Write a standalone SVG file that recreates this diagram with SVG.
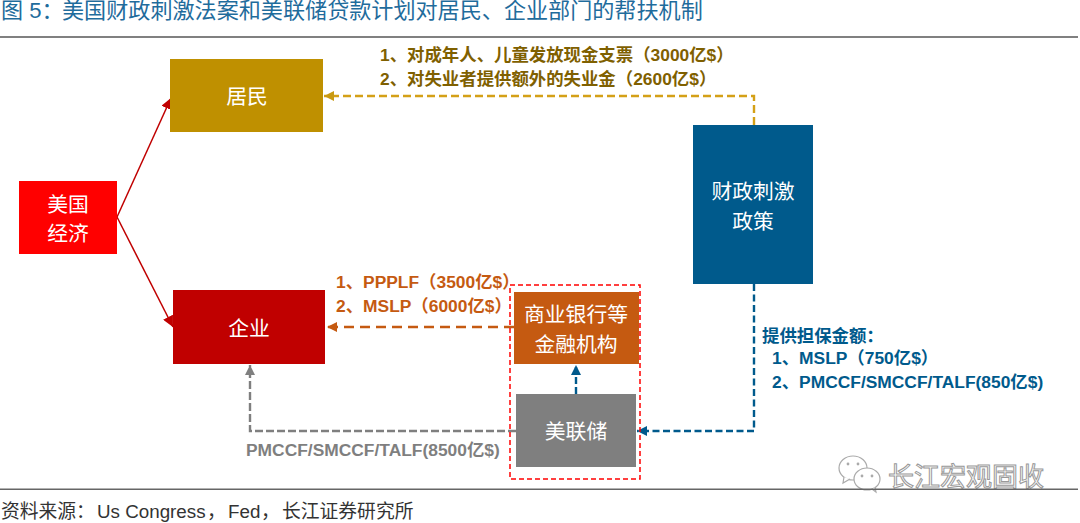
<svg xmlns="http://www.w3.org/2000/svg" width="1080" height="523" viewBox="0 0 1080 523">
<style>
text{font-family:"Liberation Sans","Noto Sans CJK SC",sans-serif}
.n{fill:#fff;font-size:20.800px;text-anchor:middle}
.l{font-size:17.400px;font-weight:bold}
.c{fill:none;stroke-width:2.400}
</style>
<defs>
<marker id="ay" markerUnits="userSpaceOnUse" markerWidth="10" markerHeight="10" refX="8" refY="4" orient="auto" viewBox="0 0 8 8"><path d="M0 0L8 4L0 8Z" fill="#c99a12"/></marker>
<marker id="ao" markerUnits="userSpaceOnUse" markerWidth="10" markerHeight="10" refX="8" refY="4" orient="auto" viewBox="0 0 8 8"><path d="M0 0L8 4L0 8Z" fill="#c55a11"/></marker>
<marker id="ag" markerUnits="userSpaceOnUse" markerWidth="10" markerHeight="10" refX="8" refY="4" orient="auto" viewBox="0 0 8 8"><path d="M0 0L8 4L0 8Z" fill="#7f7f7f"/></marker>
<marker id="ab" markerUnits="userSpaceOnUse" markerWidth="10" markerHeight="10" refX="8" refY="4" orient="auto" viewBox="0 0 8 8"><path d="M0 0L8 4L0 8Z" fill="#005a8c"/></marker>
<marker id="ar" markerUnits="userSpaceOnUse" markerWidth="11" markerHeight="11" refX="8" refY="4" orient="auto" viewBox="0 0 8 8"><path d="M0 0L8 4L0 8Z" fill="#c00000"/></marker>
</defs>
<text x="1" y="18" font-size="22.100" fill="#1f6c9c">图 5：<tspan x="62">美国财政刺激法案和美联储贷款计划对居民、企业部门的帮扶机制</tspan></text>
<rect x="0" y="36" width="1078" height="2" fill="#808080"/>
<g id="connectors">
<path d="M117 217L171 98" fill="none" stroke="#c00000" stroke-width="1.500" marker-end="url(#ar)"/>
<path d="M117 217L173 327" fill="none" stroke="#c00000" stroke-width="1.500" marker-end="url(#ar)"/>
<path class="c" stroke="#d4a017" stroke-dasharray="8 4" d="M754 125V96H324" marker-end="url(#ay)"/>
<path class="c" stroke="#c55a11" stroke-dasharray="10 6" d="M514 327H327" marker-end="url(#ao)"/>
<path class="c" stroke="#7f7f7f" stroke-dasharray="8 3" d="M516 431H250V365" marker-end="url(#ag)"/>
<path class="c" stroke="#005a8c" stroke-dasharray="7 3" d="M576 394V365" marker-end="url(#ab)"/>
<path class="c" stroke="#005a8c" stroke-dasharray="7 3.500" d="M754 284V431H637" marker-end="url(#ab)"/>
</g>
<g id="group-box"><rect x="510" y="285" width="130" height="194" fill="none" stroke="#ff0000" stroke-width="1.500" stroke-dasharray="5 3"/></g>
<g id="n-economy"><rect x="19" y="181" width="98" height="73" fill="#ff0000"/><text class="n" x="68" y="212">美国</text><text class="n" x="68" y="241">经济</text></g>
<g id="n-resident"><rect x="170" y="59" width="153" height="73" fill="#bf9000"/><text class="n" x="247" y="104">居民</text></g>
<g id="n-firm"><rect x="173" y="290" width="152" height="74" fill="#c00000"/><text class="n" x="249" y="336">企业</text></g>
<g id="n-fiscal"><rect x="693" y="125" width="120" height="159" fill="#005a8c"/><text class="n" x="753" y="199">财政刺激</text><text class="n" x="753" y="229">政策</text></g>
<g id="n-bank"><rect x="514" y="292" width="125" height="72" fill="#c55a11"/><text class="n" x="576" y="322">商业银行等</text><text class="n" x="576" y="352">金融机构</text></g>
<g id="n-fed"><rect x="516" y="394" width="120" height="73" fill="#7f7f7f"/><text class="n" x="576" y="439">美联储</text></g>
<g class="l" fill="#7f6000">
<text x="380" y="61">1、对成年人、儿童发放现金支票（3000亿$）</text>
<text x="380" y="85">2、对失业者提供额外的失业金（2600亿$）</text>
</g>
<g class="l" fill="#c55a11">
<text x="336" y="288">1、PPPLF（3500亿$）</text>
<text x="336" y="312">2、MSLP（6000亿$）</text>
</g>
<text class="l" x="246" y="456" fill="#7f7f7f">PMCCF/SMCCF/TALF(8500亿$)</text>
<g class="l" fill="#005a8c">
<text x="762" y="342">提供担保金额：</text>
<text x="772" y="364">1、MSLP（750亿$）</text>
<text x="772" y="388">2、PMCCF/SMCCF/TALF(850亿$)</text>
</g>
<g id="watermark">
<ellipse cx="853" cy="468" rx="14" ry="12" fill="#fff" stroke="#aaa" stroke-width="1.200"/>
<path d="M844 477L843 483L850 479" fill="#fff" stroke="#aaa" stroke-width="1.200"/>
<ellipse cx="867" cy="479" rx="13" ry="11" fill="#fff" stroke="#aaa" stroke-width="1.200"/>
<path d="M872 489L876 492L875 487" fill="#fff" stroke="#aaa" stroke-width="1.200"/>
<circle cx="848" cy="464" r="1.400" fill="#aaa"/><circle cx="858" cy="464" r="1.400" fill="#aaa"/><circle cx="862" cy="476" r="1.400" fill="#aaa"/><circle cx="872" cy="476" r="1.400" fill="#aaa"/>
<text x="888" y="486" font-size="26" fill="#fff" stroke="#999" stroke-width="1">长江宏观固收</text>
</g>
<rect x="0" y="488.500" width="1078" height="1.500" fill="#666"/>
<text x="1" y="518" font-size="18.800" fill="#333">资料来源：<tspan x="97">Us Congress</tspan><tspan x="207">，</tspan><tspan x="228">Fed</tspan><tspan x="261">，</tspan><tspan x="282">长江证券研究所</tspan></text>
</svg>
